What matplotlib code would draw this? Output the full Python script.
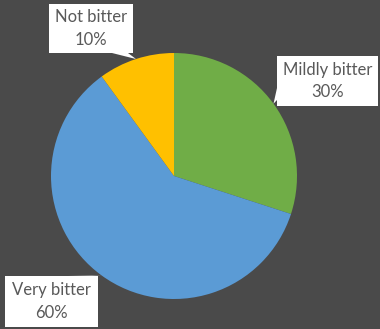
import matplotlib.pyplot as plt
from matplotlib.patches import Rectangle, Polygon
import numpy as np

labels = ['Mildly bitter', 'Very bitter', 'Not bitter']
shares = [30, 60, 10]
colors = ['#70AD47', '#5B9BD5', '#FFC000']

W, H = 380, 329
bg = '#4a4a4a'
txt = '#595959'

def up(y):
    # pixel rows counted from the top -> axis coords counted from the bottom
    return H - y

fig = plt.figure(figsize=(W / 100, H / 100), dpi=100, facecolor=bg)
ax = fig.add_axes([0, 0, 1, 1])
ax.set_facecolor(bg)

cx, cy, r = 174, up(176), 123
wedges, _ = ax.pie(shares, colors=colors, startangle=90, counterclock=False,
                   center=(cx, cy), radius=r, frame=True,
                   wedgeprops=dict(linewidth=0))
ax.set_xlim(0, W)
ax.set_ylim(0, H)
ax.set_aspect('equal')
ax.axis('off')

# callout boxes: (left, top, right, bottom) in pixel rows, pointer base on the box edge
boxes = {
    'Not bitter': ((49, 4, 133, 53), [(112, 53), (128, 53)]),
    'Mildly bitter': ((277, 56, 378, 106), [(277, 88), (277, 100)]),
    'Very bitter': ((5, 276, 98, 327), [(68, 276), (92, 276)]),
}

for w, name, val in zip(wedges, labels, shares):
    mid = np.deg2rad((w.theta1 + w.theta2) / 2)
    tip = (cx + r * np.cos(mid), cy + r * np.sin(mid))
    (x0, y0, x1, y1), base = boxes[name]
    ax.add_patch(Rectangle((x0, up(y1)), x1 - x0, y1 - y0,
                           facecolor='white', edgecolor='none', zorder=3))
    ax.add_patch(Polygon([(base[0][0], up(base[0][1])), tip,
                          (base[1][0], up(base[1][1]))],
                         closed=True, facecolor='white', edgecolor='none', zorder=3))
    ax.text((x0 + x1) / 2, up((y0 + y1) / 2), f'{name}\n{val}%',
            ha='center', va='center', color=txt, fontsize=12,
            family='Lato', linespacing=1.5, zorder=4)

fig.savefig('out.png', dpi=100, facecolor=bg)
